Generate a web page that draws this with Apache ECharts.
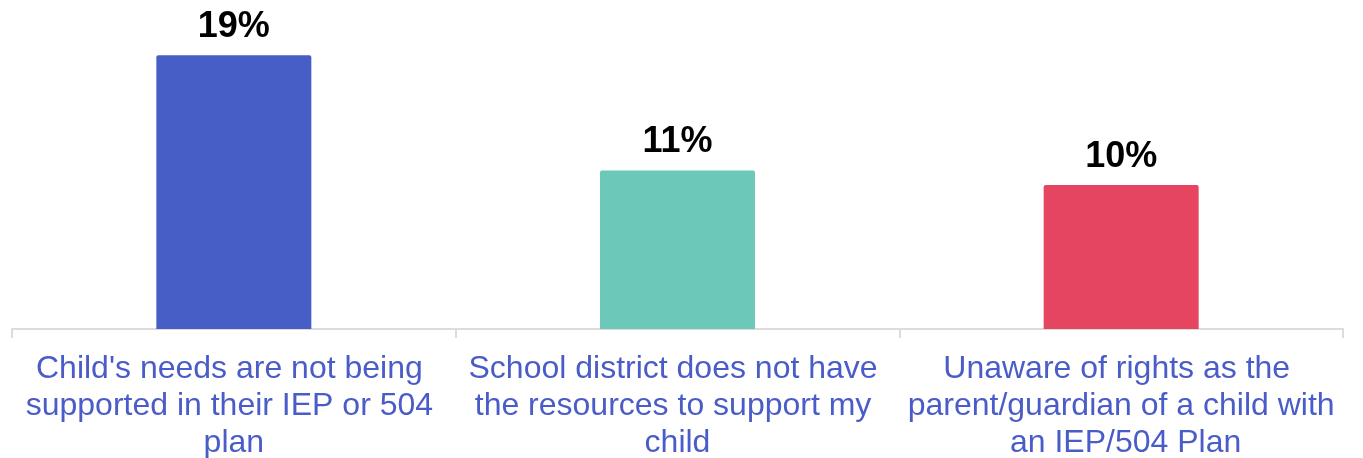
<!DOCTYPE html>
<html>
<head>
<meta charset="utf-8">
<script src="https://cdn.jsdelivr.net/npm/echarts@6/dist/echarts.min.js"></script>
<style>
  html, body { margin: 0; padding: 0; background: #fff; }
  #chart { width: 1363px; height: 458px; }
</style>
</head>
<body>
<div id="chart"></div>
<script>
// reasons parents gave
const categories = [
  "Child's needs are not being supported in their IEP or 504 plan",
  'School district does not have the resources to support my child',
  'Unaware of rights as the parent/guardian of a child with an IEP/504 Plan'
]
const percents = [19, 11, 10]
const barColors = ['#485ec7', '#6cc8b8', '#e64561']

const chart = echarts.init(document.getElementById('chart'))

chart.setOption({
  animation: false,
  grid: { left: 12, right: 20, top: 12, bottom: 129, containLabel: false, outerBoundsMode: 'none' },
  xAxis: {
    type: 'category',
    data: categories,
    axisLine: { lineStyle: { color: '#dcdcdc', width: 2 } },
    axisTick: { show: true, length: 9, lineStyle: { color: '#dcdcdc', width: 2 } },
    axisLabel: {
      interval: 0,
      margin: 22,
      color: '#4a5cc8',
      fontFamily: 'Liberation Sans, Arial, sans-serif',
      fontSize: 32,
      lineHeight: 37,
      width: 430,
      overflow: 'break'
    }
  },
  yAxis: {
    type: 'value',
    min: 0,
    max: 22,
    show: false,
    splitLine: { show: false }
  },
  series: [{
    type: 'bar',
    barWidth: 155,
    data: percents.map((v, i) => ({
      value: v,
      itemStyle: { color: barColors[i], borderRadius: [2, 2, 0, 0] }
    })),
    label: {
      show: true,
      position: 'top',
      distance: 10,
      formatter: '{c}%',
      color: '#000',
      fontFamily: 'Liberation Sans, Arial, sans-serif',
      fontWeight: 'bold',
      fontSize: 36
    }
  }]
})
</script>
</body>
</html>
